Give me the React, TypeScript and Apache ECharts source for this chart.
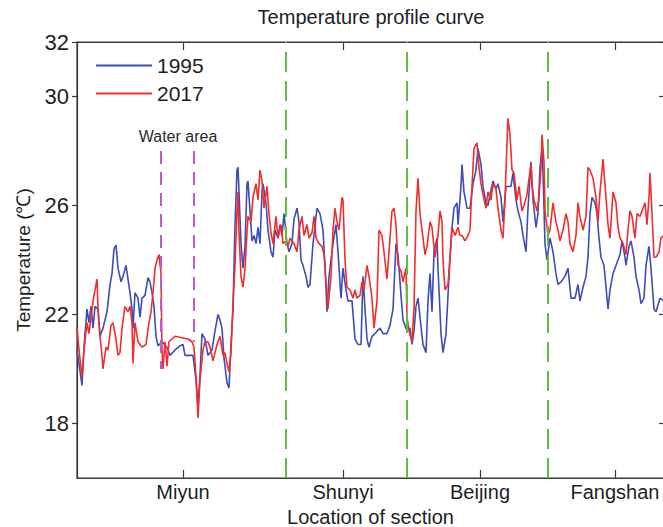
import React, { useEffect, useRef } from "react";
import * as echarts from "echarts";

// Section labels and positions along the profile (distance units along the x axis)
const sectionNames = ["Miyun", "Shunyi", "Beijing", "Fangshan"];
const sectionTicks = [106, 266, 403, 538];
const sectionBounds = [209, 330, 471];
const waterAreaPos = [84, 117];
const waterAreaTop = 28.0;
const waterAreaBottom = [20.0, 21.0];
const waterAreaLabelPos = [101, 28.55];
const yTickValues = [18, 22, 26, 30, 32];

// 1995 profile
const pos1995 = [
  0, 2, 5, 7, 10, 12, 14, 16, 18, 21, 23, 26, 30, 33, 35, 37, 39, 41, 44, 46, 49, 51, 53, 55, 56, 58, 61, 63, 65, 68,
  71, 73, 75, 77, 79, 81, 85, 90, 93, 98, 103, 106, 108, 113, 116, 119, 121, 123, 125, 128, 131, 135, 138, 141, 143,
  145, 147, 150, 152, 154, 156, 158, 160, 161, 162, 164, 166, 168, 170, 171, 173, 175, 177, 179, 181, 183, 185, 186,
  189, 191, 194, 196, 198, 201, 203, 205, 207, 210, 212, 215, 217, 220, 222, 224, 226, 229, 231, 233, 236, 240, 243,
  246, 248, 250, 252, 256, 259, 261, 264, 266, 269, 271, 275, 278, 281, 284, 286, 288, 290, 292, 295, 298, 303, 306,
  310, 313, 316, 319, 321, 324, 326, 328, 330, 333, 335, 337, 339, 341, 343, 346, 349, 351, 353, 355, 357, 360, 361,
  364, 366, 369, 371, 373, 375, 377, 380, 381, 384, 385, 387, 390, 393, 396, 399, 401, 404, 406, 409, 411, 413, 416,
  419, 421, 424, 426, 429, 431, 434, 436, 439, 441, 444, 446, 449, 451, 454, 456, 459, 461, 463, 465, 466, 468, 470,
  473, 476, 479, 481, 484, 488, 491, 494, 498, 501, 503, 506, 509, 511, 513, 515, 518, 520, 522, 524, 527, 529, 531,
  533, 536, 539, 543, 545, 548, 549, 552, 554, 557, 559, 562, 564, 567, 569, 572, 574, 577, 579, 583, 587,
];
const temp1995 = [
  20.7, 20.2, 19.4, 20.8, 22.2, 21.7, 22.3, 21.5, 22.3, 22.2, 21.2, 21.5, 22.1, 23.1, 23.5, 24.4, 24.55, 23.7, 23.2,
  23.4, 23.8, 23.3, 22.8, 22.2, 21.5, 22.8, 22.6, 21.9, 22.6, 22.7, 23.35, 23.2, 22.8, 22.3, 21.2, 20.85, 21.0, 20.8,
  20.5, 20.7, 20.85, 20.9, 20.5, 20.5, 20.5, 19.6, 18.6, 19.8, 21.3, 21.1, 20.5, 20.7, 21.4, 22.0, 21.8, 21.5, 20.4,
  19.5, 19.3, 20.9, 22.2, 25.3, 27.3, 27.4, 26.5, 24.6, 23.7, 24.5, 26.8, 26.9, 25.8, 24.7, 24.9, 24.6, 25.2, 24.6,
  26.5, 26.8, 26.1, 25.1, 24.3, 24.1, 25.1, 24.8, 25.3, 24.9, 25.7, 24.6, 24.3, 24.6, 25.5, 25.9, 25.4, 24.0, 23.8,
  23.4, 23.0, 23.1, 24.6, 25.9, 25.7, 25.1, 23.8, 22.1, 23.4, 24.6, 25.3, 24.3, 22.6, 23.7, 22.9, 22.5, 22.5, 21.1,
  20.9, 20.9, 23.4, 22.2, 21.1, 20.8, 21.2, 21.3, 21.5, 21.3, 21.3, 21.6, 22.2, 24.6, 24.2, 22.7, 21.8, 21.6, 21.4,
  21.5, 20.9, 21.4, 22.3, 22.6, 21.9, 20.9, 20.6, 22.5, 23.5, 22.1, 24.3, 24.8, 23.7, 21.3, 20.6, 21.3, 22.7, 24.1,
  25.2, 25.9, 26.1, 25.3, 26.7, 27.5, 26.5, 25.9, 25.9, 26.8, 27.3, 28.1, 27.5, 26.7, 26.1, 26.0, 26.4, 26.9, 26.6,
  26.8, 26.3, 25.4, 26.7, 26.7, 26.7, 27.2, 26.2, 25.8, 25.4, 24.9, 24.3, 25.9, 27.6, 26.2, 25.2, 25.7, 27.4, 28.1,
  27.2, 24.6, 24.0, 24.8, 24.3, 23.5, 23.1, 23.2, 23.4, 23.7, 22.6, 22.6, 23.1, 22.5, 23.0, 23.4, 24.1, 25.7, 26.3,
  26.1, 25.7, 24.8, 24.1, 23.8, 23.0, 22.2, 22.9, 23.5, 23.8, 24.2, 24.7, 24.1, 23.8, 24.5, 24.7, 24.1, 23.4, 22.9,
  22.4, 22.6, 23.8, 24.5, 23.7, 22.2, 22.1, 22.6, 22.5,
];

// 2017 profile
const pos2017 = [
  0, 2, 5, 7, 10, 12, 15, 17, 20, 21, 23, 25, 26, 29, 31, 34, 36, 39, 41, 43, 45, 48, 51, 53, 55, 56, 58, 61, 65, 69,
  72, 74, 76, 78, 80, 82, 84, 85, 86, 88, 90, 92, 95, 98, 105, 111, 115, 117, 119, 121, 123, 126, 128, 131, 133, 136,
  138, 140, 143, 146, 148, 150, 152, 154, 156, 158, 160, 161, 162, 164, 166, 168, 170, 171, 174, 176, 179, 181, 183,
  185, 187, 190, 192, 194, 196, 199, 201, 204, 206, 209, 211, 213, 215, 217, 220, 222, 225, 227, 230, 232, 235, 237,
  239, 242, 245, 247, 249, 251, 254, 256, 258, 260, 262, 265, 266, 268, 270, 273, 276, 278, 280, 283, 285, 287, 290,
  292, 295, 297, 300, 302, 305, 307, 310, 312, 315, 317, 319, 321, 324, 326, 329, 330, 332, 335, 337, 339, 341, 343,
  346, 348, 350, 352, 353, 355, 358, 361, 363, 365, 366, 368, 371, 373, 375, 378, 381, 383, 385, 388, 391, 393, 395,
  397, 400, 402, 404, 406, 409, 411, 414, 416, 419, 421, 424, 426, 428, 430, 431, 433, 435, 437, 440, 442, 445, 447,
  450, 452, 454, 455, 457, 460, 462, 464, 465, 467, 468, 471, 473, 476, 479, 481, 483, 486, 489, 491, 493, 496, 499,
  501, 503, 506, 509, 511, 513, 516, 519, 521, 523, 526, 529, 531, 533, 536, 539, 541, 543, 546, 549, 551, 553, 555,
  558, 560, 563, 565, 568, 570, 572, 573, 575, 577, 579, 582, 584, 587,
];
const temp2017 = [
  21.5, 20.7, 19.7, 20.7, 21.7, 21.3, 22.2, 22.7, 23.3, 22.2, 21.2, 20.5, 20.0, 20.8, 20.7, 21.6, 21.7, 21.1, 20.5,
  20.6, 21.5, 22.3, 22.1, 22.3, 21.7, 20.2, 21.7, 21.0, 20.8, 20.9, 21.7, 22.1, 22.8, 23.7, 24.0, 24.2, 23.5, 20.7,
  20.0, 21.0, 20.1, 21.0, 21.1, 21.2, 21.15, 21.1, 21.0, 20.8, 19.7, 18.2, 19.6, 20.7, 21.0, 21.0, 20.8, 20.3, 20.6,
  20.9, 21.2, 20.5, 20.6, 20.2, 19.9, 20.6, 22.4, 23.8, 25.8, 26.5, 25.0, 23.4, 23.0, 23.7, 25.0, 25.6, 25.4, 26.3,
  26.8, 26.2, 27.3, 26.9, 25.9, 26.7, 25.7, 25.0, 24.6, 25.6, 24.8, 25.3, 24.6, 24.7, 24.5, 24.8, 24.7, 24.6, 24.3,
  25.1, 25.6, 24.9, 25.3, 24.8, 25.0, 25.6, 24.8, 24.6, 24.5, 24.2, 23.2, 22.2, 23.4, 25.1, 25.9, 25.4, 25.1, 26.3,
  26.2, 24.0, 23.0, 22.9, 22.6, 22.9, 22.6, 22.7, 23.2, 22.9, 23.8, 23.4, 22.6, 21.5, 22.5, 25.1, 24.9, 24.3, 23.3,
  24.3, 25.8, 25.9, 25.3, 23.8, 23.6, 23.2, 23.7, 21.9, 21.4, 21.0, 22.2, 25.8, 27.0, 25.7, 24.8, 24.2, 24.5, 25.1,
  25.4, 25.2, 24.1, 24.9, 25.8, 25.4, 24.0, 22.9, 23.1, 24.1, 25.2, 24.9, 25.2, 24.9, 24.9, 24.7, 24.9, 25.1, 26.7,
  28.1, 28.3, 27.4, 26.8, 26.4, 25.9, 26.5, 26.2, 26.8, 26.6, 25.9, 25.1, 24.8, 26.2, 28.3, 29.2, 28.6, 27.3, 27.2,
  26.2, 26.7, 25.8, 26.0, 26.4, 27.0, 27.5, 26.7, 26.2, 25.8, 26.3, 27.4, 28.6, 27.6, 25.8, 24.9, 25.1, 26.1, 25.4,
  25.1, 24.7, 25.1, 25.7, 25.4, 24.6, 24.3, 24.9, 26.1, 25.6, 25.1, 25.6, 27.4, 27.3, 27.0, 26.3, 25.4, 26.5, 27.7,
  26.3, 25.3, 24.8, 26.5, 26.1, 25.2, 24.8, 24.6, 24.2, 25.1, 25.8, 25.6, 24.8, 25.7, 25.6, 25.8, 26.1, 25.3, 26.3,
  27.2, 25.7, 24.1, 24.1, 24.3, 24.8, 24.9,
];

export default function App() {
  const ref = useRef<HTMLDivElement>(null);

  useEffect(() => {
    if (!ref.current) return;
    const chart = echarts.init(ref.current, null, { renderer: "svg" });
    const font = "'Liberation Sans', Arial, sans-serif";
    const axisColor = "#3a3a3a";
    const textColor = "#1e1e1e";
    const blue = "#3d4db5";
    const red = "#f42c2c";

    chart.setOption({
      animation: false,
      backgroundColor: "#ffffff",
      textStyle: { fontFamily: font },
      title: {
        text: "Temperature profile curve",
        left: 371,
        top: 7,
        padding: 0,
        textAlign: "center",
        textStyle: { fontSize: 20, fontWeight: "normal", color: textColor, fontFamily: font },
      },
      legend: {
        data: [
          { name: "1995", icon: "rect" },
          { name: "2017", icon: "rect" },
        ],
        orient: "vertical",
        left: 96,
        top: 55,
        padding: 0,
        itemWidth: 56,
        itemHeight: 2,
        itemGap: 7,
        textStyle: { fontSize: 21, color: textColor, fontFamily: font },
      },
      grid: {
        left: 77,
        top: 42,
        width: 587,
        height: 436,
        show: true,
        borderColor: axisColor,
        borderWidth: 1.2,
        backgroundColor: "transparent",
        outerBoundsMode: "none",
      },
      xAxis: [
        {
          type: "value",
          min: 0,
          max: 587,
          position: "bottom",
          axisLine: { show: true, onZero: false, lineStyle: { color: axisColor, width: 1.2 } },
          splitLine: { show: false },
          axisTick: {
            show: true,
            inside: true,
            length: 8,
            customValues: sectionTicks,
            lineStyle: { color: axisColor, width: 1.2 },
          },
          axisLabel: {
            customValues: sectionTicks,
            formatter: (v: number) => {
              const i = sectionTicks.indexOf(Math.round(v));
              return i >= 0 ? sectionNames[i] : "";
            },
            fontSize: 20,
            color: textColor,
            margin: 4,
            fontFamily: font,
          },
          name: "Location of section",
          nameLocation: "middle",
          nameGap: 24,
          nameTextStyle: { fontSize: 20, color: textColor, fontFamily: font },
        },
        {
          type: "value",
          min: 0,
          max: 587,
          position: "top",
          axisLine: { show: true, onZero: false, lineStyle: { color: axisColor, width: 1.2 } },
          splitLine: { show: false },
          axisTick: {
            show: true,
            inside: true,
            length: 8,
            customValues: sectionTicks,
            lineStyle: { color: axisColor, width: 1.2 },
          },
          axisLabel: { show: false },
        },
      ],
      yAxis: [
        {
          type: "value",
          min: 16,
          max: 32,
          position: "left",
          axisLine: { show: true, onZero: false, lineStyle: { color: axisColor, width: 1.2 } },
          splitLine: { show: false },
          axisTick: {
            show: true,
            inside: false,
            length: 5,
            customValues: yTickValues,
            lineStyle: { color: axisColor, width: 1.2 },
          },
          axisLabel: {
            customValues: yTickValues,
            fontSize: 22,
            color: textColor,
            margin: 8,
            fontFamily: font,
          },
          name: "Temperature (\u2103)",
          nameLocation: "middle",
          nameGap: 44,
          nameRotate: 90,
          nameTextStyle: { fontSize: 19, color: textColor, fontFamily: font },
        },
        {
          type: "value",
          min: 16,
          max: 32,
          position: "right",
          axisLine: { show: true, onZero: false, lineStyle: { color: axisColor, width: 1.2 } },
          splitLine: { show: false },
          axisTick: {
            show: true,
            inside: true,
            length: 5,
            customValues: yTickValues,
            lineStyle: { color: axisColor, width: 1.2 },
          },
          axisLabel: { show: false },
        },
      ],
      series: [
        {
          name: "boundaries",
          type: "line",
          data: [],
          silent: true,
          markLine: {
            silent: true,
            symbol: ["none", "none"],
            label: { show: false },
            lineStyle: { color: "#5fbf3c", type: [20, 9], width: 2 },
            data: sectionBounds.map((x) => ({ xAxis: x })),
          },
        },
        {
          name: "water",
          type: "line",
          data: [],
          silent: true,
          markLine: {
            silent: true,
            symbol: ["none", "none"],
            label: { show: false },
            lineStyle: { color: "#c358c7", type: [13, 8], width: 2 },
            data: waterAreaPos.map((x, i) => [
              { coord: [x, waterAreaTop] },
              { coord: [x, waterAreaBottom[i]] },
            ]),
          },
          markPoint: {
            silent: true,
            symbol: "circle",
            symbolSize: 1,
            itemStyle: { color: "rgba(0,0,0,0)" },
            label: {
              show: true,
              position: "inside",
              formatter: "Water area",
              fontSize: 16,
              color: "#2a2a2a",
              fontFamily: font,
            },
            data: [{ coord: waterAreaLabelPos }],
          },
        },
        {
          name: "1995",
          type: "line",
          symbol: "none",
          data: pos1995.map((x, i) => [x, temp1995[i]]),
          lineStyle: { color: blue, width: 1.6 },
          itemStyle: { color: blue },
        },
        {
          name: "2017",
          type: "line",
          symbol: "none",
          data: pos2017.map((x, i) => [x, temp2017[i]]),
          lineStyle: { color: red, width: 1.6 },
          itemStyle: { color: red },
        },
      ],
    });

    return () => chart.dispose();
  }, []);

  return (
    <div
      ref={ref}
      style={{ position: "fixed", left: 0, top: 0, width: 663, height: 527, background: "#fff" }}
    />
  );
}
